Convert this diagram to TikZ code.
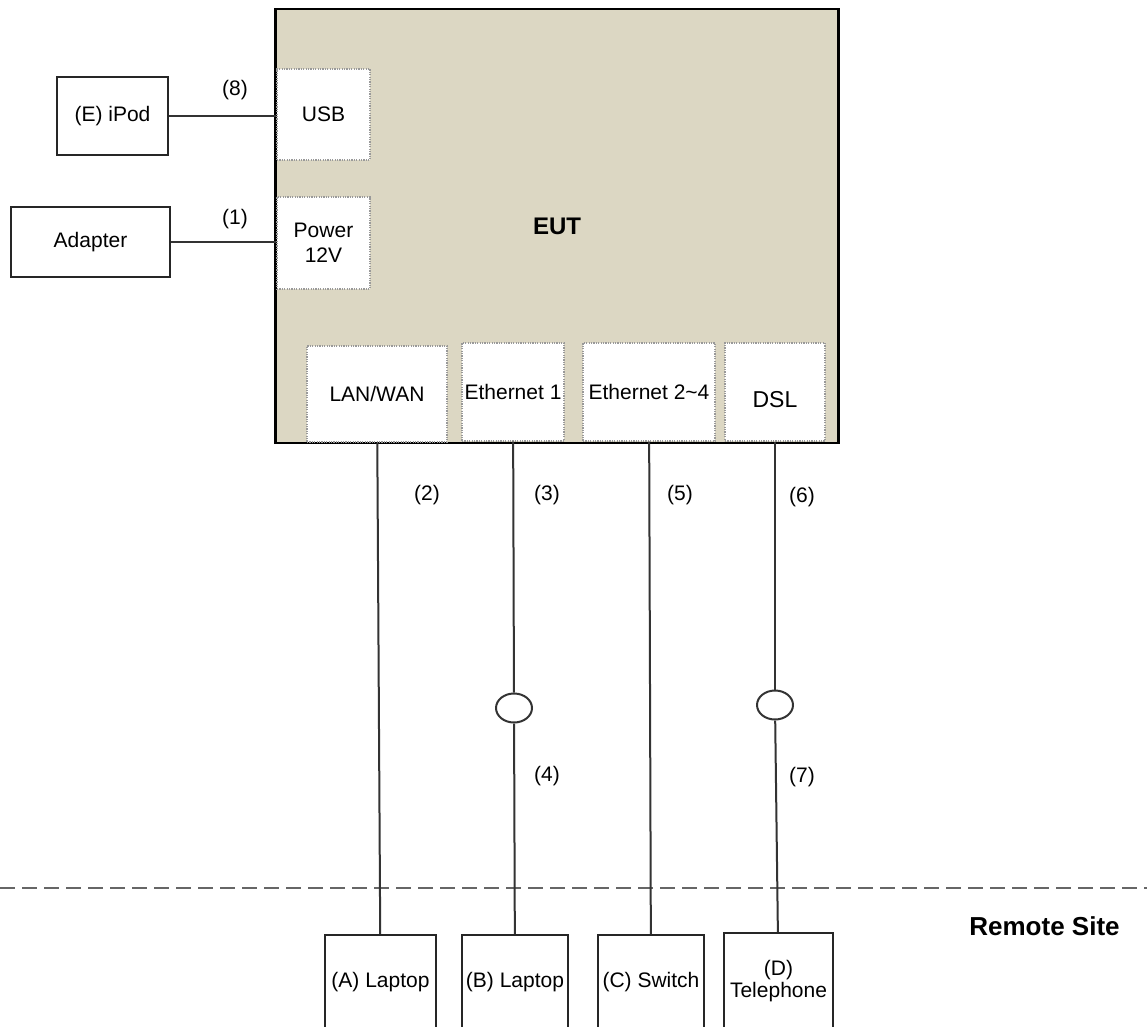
\documentclass[tikz,border=0pt]{standalone}
\usepackage{fontspec}
\setmainfont{Liberation Sans}
\usetikzlibrary{shapes.geometric}
\definecolor{eutfill}{RGB}{220,215,195}

\begin{document}
\begin{tikzpicture}[
            x=1pt, y=-1pt,
            font=\fontsize{21}{25}\selectfont,
            eut/.style={draw, line width=2.4pt, fill=eutfill, minimum width=563, minimum height=434, inner sep=0, font=\fontsize{24}{28}\selectfont\bfseries},
            port/.style={draw=gray!80, fill=white, dash pattern=on 1.2pt off 1.2pt, line width=1.3pt, inner sep=0, align=center},
            device/.style={draw=black!85, line width=2pt, inner sep=0, align=center},
            tap/.style={draw=black!80, ellipse, line width=2pt, fill=white, minimum width=36, minimum height=29, inner sep=0},
            cable/.style={draw=black!80, line width=2pt},
            boundary/.style={draw=black!60, line width=2pt, dash pattern=on 15pt off 7pt},
            num/.style={inner sep=0}
        ]
        \useasboundingbox (0,0) rectangle (1147,1026);

        % equipment under test and its ports
        \node[eut] (eut) at (557,226) {EUT};
        \node[port, minimum width=93, minimum height=91] (usb) at (323.5,114.5) {USB};
        \node[port, minimum width=93, minimum height=92] (power) at (323.5,243) {Power\\12V};
        \node[port, minimum width=140, minimum height=96] (lanwan) at (377,394) {LAN/WAN};
        \node[port, minimum width=102, minimum height=98] (eth1) at (513,392) {Ethernet 1};
        \node[port, minimum width=132, minimum height=98] (eth24) at (649,392) {Ethernet 2\textasciitilde4};
        \node[port, minimum width=100, minimum height=98,
              label={[num, yshift=-8pt, font=\fontsize{23}{27}\selectfont]center:DSL}] (dsl) at (775,392) {};

        % local devices
        \node[device, minimum width=111, minimum height=78] (ipod) at (112.5,116) {(E) iPod};
        \node[device, minimum width=159, minimum height=70] (adapter) at (90.5,242) {Adapter};

        % remote site
        \coordinate (siteL) at (0,888);
        \coordinate (siteR) at (1147,888);
        \draw[boundary] (siteL) -- (siteR);
        \node[num, font=\fontsize{26}{30}\selectfont\bfseries] (remote) at (1044.5,926) {Remote Site};

        \node[device, minimum width=111, minimum height=94] (laptopA) at (380.5,982) {(A) Laptop};
        \node[device, minimum width=106, minimum height=94] (laptopB) at (515,982) {(B) Laptop};
        \node[device, minimum width=106, minimum height=94] (switchC) at (651,982) {(C) Switch};
        \node[device, minimum width=109, minimum height=96, font=\fontsize{21}{22}\selectfont] (phoneD) at (778.5,981) {(D)\\Telephone};

        \node[tap] (tap1) at (514,708) {};
        \node[tap] (tap2) at (775,705) {};

        % cables
        \draw[cable] (ipod.east) -- (ipod.east -| usb.west);
        \draw[cable] (adapter.east) -- (adapter.east -| power.west);
        \draw[cable] (lanwan) -- (laptopA);
        \draw[cable] (eth1) -- (tap1);
        \draw[cable] (tap1) -- (laptopB);
        \draw[cable] (eth24) -- (switchC);
        \draw[cable] (dsl) -- (tap2);
        \draw[cable] (tap2) -- (phoneD);

        % cable numbers
        \node[num] (n8) at (235,90) {(8)};
        \node[num] (n1) at (235,219) {(1)};
        \node[num] (n2) at (427,495) {(2)};
        \node[num] (n3) at (547,495) {(3)};
        \node[num] (n5) at (680,495) {(5)};
        \node[num] (n6) at (802,497) {(6)};
        \node[num] (n4) at (547,776) {(4)};
        \node[num] (n7) at (802,777) {(7)};
    \end{tikzpicture}
\end{document}
